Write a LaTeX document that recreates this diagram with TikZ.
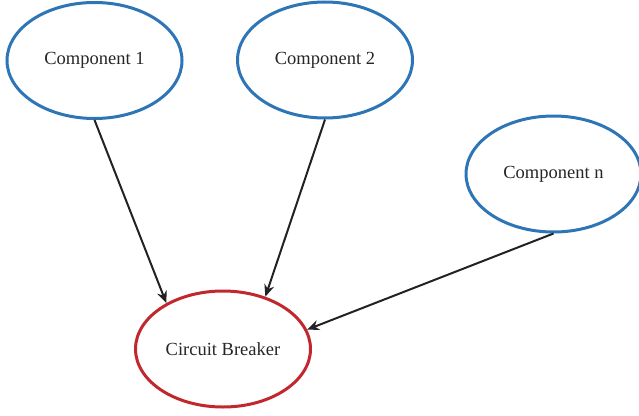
\documentclass[tikz,border=0pt]{standalone}
\usepackage{fontspec}
\setmainfont{Liberation Serif}
\usetikzlibrary{shapes.geometric,arrows.meta}
\definecolor{compblue}{HTML}{2E75B6}
\definecolor{breakred}{HTML}{C0282D}
\definecolor{linkgray}{HTML}{222222}
\begin{document}
\begin{tikzpicture}[x=1pt,y=-1pt,
  blob/.style={ellipse,draw,line width=3pt,inner sep=0pt,
    minimum width=175pt,minimum height=116pt,
    font=\fontsize{18.5}{20}\selectfont,text=black!85},
  comp/.style={blob,draw=compblue},
  brk/.style={blob,draw=breakred},
  link/.style={draw=linkgray,line width=2pt,-{Stealth[length=12pt,width=10pt]}}]
  \useasboundingbox (0,0) rectangle (639,415);
  \node[comp] (c1) at (94.5,60.5) {Component 1};
  \node[comp] (c2) at (325,60) {Component 2};
  \node[comp] (cn) at (553.5,174) {Component n};
  \node[brk] (cb) at (223,349) {Circuit Breaker};
  \draw[link] (c1.south) -- (cb.141);
  \draw[link] (c2.south) -- (cb.51);
  \draw[link] (cn.south) -- (cb.13);
\end{tikzpicture}
\end{document}
